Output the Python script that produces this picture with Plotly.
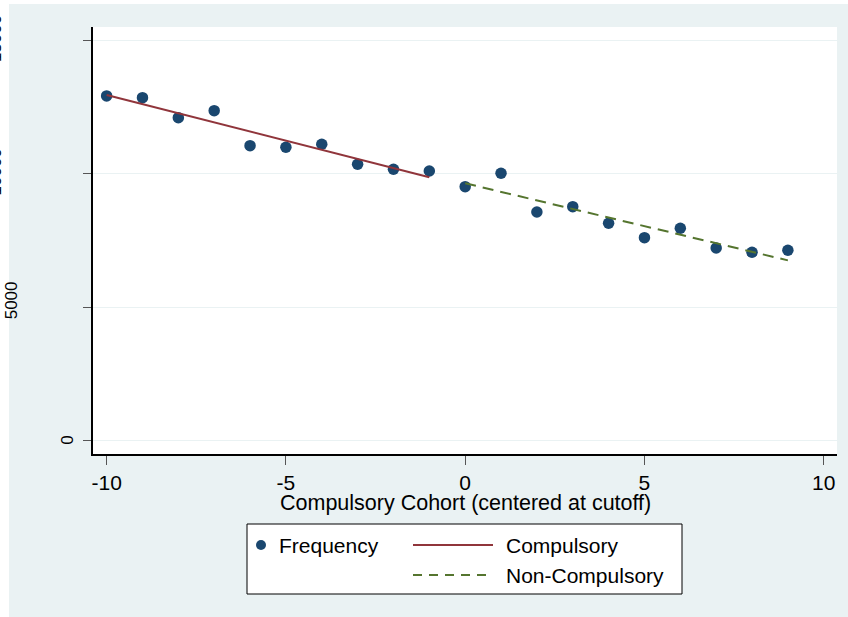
import plotly.graph_objects as go

# ---- data ----
cohort = [-10, -9, -8, -7, -6, -5, -4, -3, -2, -1, 0, 1, 2, 3, 4, 5, 6, 7, 8, 9]
frequency = [12925, 12861, 12111, 12373, 11061, 11001, 11114, 10364, 10176, 10112,
             9524, 10026, 8575, 8774, 8151, 7612, 7964, 7225, 7064, 7139]
comp_x = [-10, -1]
comp_y = [12960, 9880]
noncomp_x = [0, 9]
noncomp_y = [9650, 6760]
x_ticks = [-10, -5, 0, 5, 10]
x_tick_labels = ["-10", "-5", "0", "5", "10"]
y_ticks = [0, 5000, 10000, 15000]
y_tick_labels = ["0", "5000", "10000", "15000"]
x_title = "Compulsory Cohort (centered at cutoff)"
legend_names = ["Frequency", "Compulsory", "Non-Compulsory"]

# ---- styling ----
W, H = 848, 617
ML, MR, MT, MB = 93, 11, 27, 163
PW, PH = W - ML - MR, H - MT - MB
NAVY = "#1a476f"
MAROON = "#90353b"
GREEN = "#55752f"
BG = "#eaf2f3"
FONT = "Liberation Sans, Arial, sans-serif"


def px(x):
    return (x - ML) / PW


def py(y):
    return (MT + PH - y) / PH


fig = go.Figure()
fig.add_trace(go.Scatter(x=cohort, y=frequency, mode="markers", name=legend_names[0],
                         marker=dict(color=NAVY, size=11.5, line=dict(width=0)),
                         showlegend=False))
fig.add_trace(go.Scatter(x=comp_x, y=comp_y, mode="lines", name=legend_names[1],
                         line=dict(color=MAROON, width=2), showlegend=False))
fig.add_trace(go.Scatter(x=noncomp_x, y=noncomp_y, mode="lines", name=legend_names[2],
                         line=dict(color=GREEN, width=2, dash="11px,7px"),
                         showlegend=False))

shapes = [
    # white page strips outside the graph region
    dict(type="rect", xref="paper", yref="paper", x0=px(-5), x1=px(9), y0=py(H + 5), y1=py(-5),
         fillcolor="white", line=dict(width=0), layer="below"),
    dict(type="rect", xref="paper", yref="paper", x0=px(-5), x1=px(W + 5), y0=py(4), y1=py(-5),
         fillcolor="white", line=dict(width=0), layer="below"),
    # legend box
    dict(type="rect", xref="paper", yref="paper", x0=px(247), x1=px(682), y0=py(594), y1=py(524),
         fillcolor="white", line=dict(color="black", width=1)),
    dict(type="circle", xref="paper", yref="paper", x0=px(256), x1=px(266), y0=py(550), y1=py(540),
         fillcolor=NAVY, line=dict(width=0)),
    dict(type="line", xref="paper", yref="paper", x0=px(413), x1=px(493), y0=py(545), y1=py(545),
         line=dict(color=MAROON, width=2)),
    dict(type="line", xref="paper", yref="paper", x0=px(413), x1=px(493), y0=py(575), y1=py(575),
         line=dict(color=GREEN, width=2, dash="9px,7px")),
]

annotations = [
    dict(text=legend_names[0], x=px(277), y=py(545), xanchor="left", yanchor="middle"),
    dict(text=legend_names[1], x=px(504), y=py(545), xanchor="left", yanchor="middle"),
    dict(text=legend_names[2], x=px(504), y=py(575), xanchor="left", yanchor="middle"),
]
for a in annotations:
    a.update(xref="paper", yref="paper", showarrow=False, font=dict(family=FONT, size=21, color="black"))
annotations.append(dict(text=x_title, xref="paper", yref="paper", x=px(465), y=py(503),
                        xanchor="center", yanchor="middle", showarrow=False,
                        font=dict(family=FONT, size=21.5, color="black")))

# y tick labels (rotated, offset as in the reference)
ylab_x = [68, 11, -4.5, -4.5]
ylab_dy = [0, -7, -2, -2]
for v, lab, lx, dy in zip(y_ticks, y_tick_labels, ylab_x, ylab_dy):
    annotations.append(dict(text=lab, xref="paper", yref="y", x=px(lx), y=v,
                            yshift=-dy, showarrow=False, textangle=-90,
                            xanchor="center", yanchor="middle",
                            font=dict(family=FONT, size=17, color="black")))

fig.update_layout(
    width=W, height=H,
    margin=dict(l=ML, r=MR, t=MT, b=MB),
    paper_bgcolor=BG, plot_bgcolor="white",
    showlegend=False,
    shapes=shapes, annotations=annotations,
    font=dict(family=FONT, color="black"),
    xaxis=dict(range=[-10.38, 10.37], tickvals=x_ticks, ticktext=x_tick_labels,
               ticks="outside", ticklen=9,
               tickcolor="#555555", tickwidth=1, showgrid=False, zeroline=False,
               showline=True, linecolor="black", linewidth=1.5,
               tickfont=dict(family=FONT, size=21, color="black")),
    yaxis=dict(range=[-500, 15510], tickvals=y_ticks, ticks="outside", ticklen=8,
               tickcolor="#555555", tickwidth=1, showticklabels=False,
               showgrid=True, gridcolor=BG, gridwidth=1, zeroline=False,
               showline=True, linecolor="black", linewidth=1.5),
)

fig.write_html("out.html", config={"displayModeBar": False},
               post_script="document.body.style.margin='0';")
